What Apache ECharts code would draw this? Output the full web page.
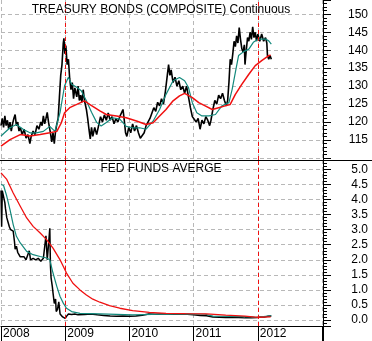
<!DOCTYPE html>
<html><head><meta charset="utf-8">
<script src="https://cdn.jsdelivr.net/npm/echarts@6/dist/echarts.min.js"></script>
<style>html,body{margin:0;padding:0;background:#fff}#c{width:372px;height:341px}</style>
</head><body><div id="c"></div>
<script>
const bondTitle = 'TREASURY BONDS (COMPOSITE) Continuous';
const fedTitle = 'FED FUNDS AVERGE';
const yearLabels = [2008, 2009, 2010, 2011, 2012];
const bondTickLabels = [115, 120, 125, 130, 135, 140, 145, 150];
const fedTickLabels = [0, 0.5, 1, 1.5, 2, 2.5, 3, 3.5, 4, 4.5, 5];
const markYears = [2009, 2012];

// [decimal year, price]
const bondPrice = [
[2008.00,119.0],[2008.02,121.0],[2008.04,118.5],[2008.06,121.7],[2008.08,119.0],[2008.10,120.5],[2008.12,118.0],[2008.14,120.0],[2008.16,117.5],[2008.18,119.5],
[2008.20,121.0],[2008.22,122.1],[2008.24,119.0],[2008.26,120.0],[2008.28,117.5],[2008.30,118.5],[2008.33,116.5],[2008.36,118.0],[2008.39,115.5],[2008.42,116.5],
[2008.45,114.0],[2008.47,116.0],[2008.50,117.5],[2008.53,116.5],[2008.56,119.0],[2008.59,118.0],[2008.62,120.0],[2008.64,119.0],[2008.66,121.7],[2008.68,119.5],
[2008.70,121.0],[2008.72,122.7],[2008.74,120.0],[2008.77,117.0],[2008.79,114.5],[2008.81,117.0],[2008.83,114.0],[2008.85,117.5],[2008.87,119.5],[2008.89,121.0],
[2008.91,127.0],[2008.93,133.0],[2008.95,136.0],[2008.97,142.0],[2008.98,143.3],[2008.995,139.0],[2009.01,141.3],[2009.03,136.0],[2009.05,137.5],[2009.07,132.0],
[2009.09,129.0],[2009.11,131.0],[2009.13,126.5],[2009.15,129.5],[2009.18,127.0],[2009.20,130.0],[2009.22,126.0],[2009.24,127.5],[2009.26,125.5],[2009.28,129.0],
[2009.30,126.0],[2009.33,123.5],[2009.35,121.0],[2009.37,118.0],[2009.39,115.3],[2009.41,118.5],[2009.43,116.0],[2009.46,118.5],[2009.49,116.5],[2009.52,119.0],
[2009.55,121.5],[2009.58,120.0],[2009.61,122.0],[2009.64,120.5],[2009.67,122.5],[2009.70,120.5],[2009.73,121.5],[2009.76,119.5],[2009.79,121.0],[2009.82,120.0],
[2009.85,121.5],[2009.88,122.0],[2009.90,123.5],[2009.92,120.5],[2009.94,117.0],[2009.96,116.0],[2009.99,118.5],[2010.02,117.0],[2010.05,119.5],[2010.08,117.5],
[2010.11,119.0],[2010.14,117.0],[2010.17,115.5],[2010.20,115.0],[2010.23,117.0],[2010.26,119.0],[2010.29,118.5],[2010.32,121.0],[2010.35,121.5],[2010.38,124.0],
[2010.41,123.0],[2010.44,125.5],[2010.47,124.5],[2010.50,126.5],[2010.53,125.0],[2010.56,128.5],[2010.59,133.0],[2010.61,136.0],[2010.63,133.0],[2010.65,134.5],
[2010.68,131.0],[2010.71,132.5],[2010.74,130.0],[2010.77,131.5],[2010.80,129.0],[2010.83,130.0],[2010.86,128.0],[2010.89,130.0],[2010.92,127.0],[2010.95,124.0],
[2010.98,121.5],[2011.01,122.0],[2011.04,120.0],[2011.07,121.0],[2011.10,118.0],[2011.13,120.5],[2011.16,119.5],[2011.19,121.5],[2011.22,120.5],[2011.25,119.0],
[2011.27,120.5],[2011.30,123.5],[2011.33,126.0],[2011.36,125.0],[2011.39,127.5],[2011.42,126.5],[2011.45,128.0],[2011.48,126.0],[2011.51,124.5],[2011.53,126.0],
[2011.55,131.0],[2011.57,137.5],[2011.59,136.0],[2011.61,139.0],[2011.63,142.5],[2011.65,141.0],[2011.67,144.0],[2011.69,142.0],[2011.71,146.3],[2011.73,143.0],
[2011.75,140.5],[2011.77,139.5],[2011.79,141.5],[2011.80,136.0],[2011.82,140.0],[2011.84,143.5],[2011.86,142.5],[2011.88,145.0],[2011.90,143.0],[2011.92,146.5],
[2011.94,143.5],[2011.96,145.0],[2011.98,142.5],[2012.00,144.5],[2012.03,142.5],[2012.06,144.5],[2012.09,142.5],[2012.12,143.5],[2012.14,142.0],[2012.15,138.5],
[2012.17,137.5],[2012.19,138.5],[2012.21,137.5]
];
const bondFastMA = [
[2008.00,116.1],[2008.14,118.4],[2008.24,119.3],[2008.35,117.9],[2008.45,117.0],[2008.55,117.0],[2008.66,117.4],[2008.76,118.8],[2008.84,117.4],[2008.92,122.7],
[2008.99,130.1],[2009.05,132.5],[2009.10,130.5],[2009.18,129.7],[2009.25,128.7],[2009.33,125.9],[2009.41,122.7],[2009.49,119.9],[2009.56,118.9],[2009.64,119.9],
[2009.74,121.2],[2009.85,120.8],[2009.95,118.8],[2010.05,118.4],[2010.16,118.4],[2010.26,118.0],[2010.37,120.3],[2010.47,123.5],[2010.57,127.7],[2010.68,131.5],
[2010.78,132.4],[2010.86,131.5],[2010.92,129.6],[2010.98,125.4],[2011.05,122.6],[2011.13,121.7],[2011.24,121.7],[2011.34,122.1],[2011.44,124.5],[2011.55,125.4],
[2011.60,129.1],[2011.65,133.8],[2011.70,138.5],[2011.78,139.6],[2011.86,140.3],[2011.93,142.2],[2012.01,143.1],[2012.12,143.1],[2012.17,142.6],[2012.21,141.7]
];
const bondSlowMA = [
[2008.00,113.3],[2008.14,115.1],[2008.30,116.5],[2008.45,116.1],[2008.61,116.5],[2008.76,117.0],[2008.87,117.4],[2008.94,119.8],[2008.99,122.6],[2009.07,124.0],
[2009.18,124.9],[2009.30,125.9],[2009.38,124.9],[2009.54,123.1],[2009.64,122.1],[2009.80,121.7],[2009.95,121.2],[2010.11,120.3],[2010.26,119.3],[2010.37,119.8],
[2010.47,121.7],[2010.57,123.5],[2010.68,125.9],[2010.78,127.3],[2010.86,128.0],[2010.98,126.8],[2011.08,125.4],[2011.18,124.5],[2011.29,123.5],[2011.39,124.0],
[2011.49,124.5],[2011.57,124.9],[2011.65,127.7],[2011.75,130.5],[2011.86,133.3],[2011.96,135.7],[2012.06,137.1],[2012.17,138.5],[2012.20,138.6]
];
const fedRate = [
[2008.00,4.3],[2008.01,3.1],[2008.02,4.3],[2008.05,4.3],[2008.06,3.9],[2008.07,3.7],[2008.09,3.4],[2008.11,3.25],[2008.13,3.1],[2008.15,3.0],
[2008.17,3.05],[2008.19,2.95],[2008.21,2.6],[2008.22,2.35],[2008.24,2.45],[2008.26,2.25],[2008.28,2.3],[2008.30,2.1],[2008.33,2.05],[2008.36,2.1],
[2008.39,2.0],[2008.42,2.05],[2008.44,2.3],[2008.46,2.0],[2008.50,2.05],[2008.54,2.0],[2008.58,2.05],[2008.62,1.95],[2008.66,2.05],[2008.68,2.0],
[2008.70,2.8],[2008.72,2.0],[2008.74,2.5],[2008.76,3.05],[2008.77,1.8],[2008.78,1.4],[2008.80,1.1],[2008.81,0.9],[2008.83,0.55],[2008.85,0.7],
[2008.86,0.28],[2008.88,0.35],[2008.90,0.6],[2008.92,0.2],[2008.94,0.15],[2008.96,0.1],[2008.98,0.12],[2009.00,0.05],[2009.02,0.12],[2009.05,0.2],
[2009.10,0.18],[2009.15,0.2],[2009.20,0.17],[2009.30,0.18],[2009.40,0.2],[2009.50,0.17],[2009.60,0.15],[2009.70,0.13],[2009.80,0.12],[2009.90,0.13],
[2010.00,0.12],[2010.10,0.13],[2010.20,0.16],[2010.30,0.2],[2010.40,0.19],[2010.50,0.2],[2010.60,0.2],[2010.70,0.19],[2010.80,0.19],[2010.90,0.19],
[2011.00,0.17],[2011.10,0.15],[2011.20,0.14],[2011.30,0.1],[2011.40,0.09],[2011.50,0.08],[2011.60,0.09],[2011.70,0.08],[2011.80,0.07],[2011.90,0.07],
[2012.00,0.08],[2012.05,0.1],[2012.10,0.1],[2012.15,0.12],[2012.21,0.13]
];
const fedFastMA = [
[2008.00,4.5],[2008.04,4.47],[2008.09,4.11],[2008.14,3.67],[2008.19,3.17],[2008.24,2.78],[2008.30,2.56],[2008.35,2.42],[2008.40,2.28],[2008.50,2.17],
[2008.61,2.11],[2008.71,2.06],[2008.76,2.0],[2008.81,1.56],[2008.87,1.11],[2008.92,0.78],[2008.97,0.56],[2009.02,0.39],[2009.10,0.28],[2009.23,0.22],
[2009.54,0.2],[2010.05,0.17],[2010.50,0.19],[2010.87,0.2],[2011.18,0.19],[2011.30,0.13],[2011.60,0.12],[2011.90,0.1],[2011.96,0.09],[2012.21,0.14]
];
const fedSlowMA = [
[2008.00,4.89],[2008.09,4.67],[2008.19,4.22],[2008.30,3.78],[2008.40,3.39],[2008.50,3.11],[2008.61,2.89],[2008.71,2.67],[2008.81,2.39],[2008.92,2.0],
[2009.02,1.56],[2009.12,1.22],[2009.23,1.0],[2009.33,0.83],[2009.43,0.69],[2009.54,0.59],[2009.69,0.48],[2009.85,0.39],[2010.05,0.31],[2010.31,0.25],
[2010.57,0.22],[2010.87,0.21],[2011.20,0.2],[2011.50,0.16],[2011.80,0.13],[2012.00,0.09],[2012.20,0.1]
];

const FONT = '"Liberation Sans", Arial, sans-serif';
const GRID_C = '#b8b8b8';
const BLACK = '#000000', TEAL = '#13897c', RED = '#f01010';

function near(v, list) { return list.some(t => Math.abs(v - t) < 1e-6); }

const xCommon = {
  type: 'value', min: 2008, max: 2013.015, interval: 1,
  splitLine: { show: true, lineStyle: { color: GRID_C, type: [4, 3], width: 1 } }
};
function yCommon(gi, lo, hi, step, labels, digits) {
  return {
    type: 'value', gridIndex: gi, position: 'right', min: lo, max: hi,
    minInterval: step, maxInterval: step,
    axisLine: { show: true, onZero: false, lineStyle: { color: BLACK, width: 1 } },
    axisTick: { show: true, inside: false, length: 8, lineStyle: { color: BLACK } },
    minorTick: { show: true, splitNumber: 5, length: 4, lineStyle: { color: BLACK } },
    splitLine: { show: true, showMinLine: false, showMaxLine: false, lineStyle: { color: GRID_C, type: [4, 3], width: 1 } },
    axisLabel: {
      show: true, align: 'right', margin: 45, fontSize: 12, color: BLACK, fontFamily: FONT,
      formatter: v => near(v, labels) ? v.toFixed(digits) : ''
    }
  };
}
const markLine = {
  silent: true, symbol: ['none', 'none'], animation: false,
  label: { show: false },
  lineStyle: { color: RED, type: [4, 3], width: 1 },
  data: markYears.map(y => ({ xAxis: y }))
};
function line(data, color, width, xi, extra) {
  return Object.assign({
    type: 'line', data: data, xAxisIndex: xi, yAxisIndex: xi, showSymbol: false, symbol: 'none',
    lineStyle: { color: color, width: width }, itemStyle: { color: color }, silent: true, animation: false
  }, extra || {});
}

const chart = echarts.init(document.getElementById('c'));
chart.setOption({
  animation: false,
  backgroundColor: '#ffffff',
  title: [
    { text: bondTitle, left: 161, top: 4, textAlign: 'center', padding: 0,
      textStyle: { fontSize: 12, fontWeight: 'normal', color: BLACK, fontFamily: FONT } },
    { text: fedTitle, left: 161, top: 163, textAlign: 'center', padding: 0,
      textStyle: { fontSize: 12, fontWeight: 'normal', color: BLACK, fontFamily: FONT } }
  ],
  grid: [
    { left: 1, right: 49, top: 0, height: 160 },
    { left: 1, right: 49, top: 160, height: 166 }
  ],
  xAxis: [
    Object.assign({}, xCommon, { gridIndex: 0, axisLine: { show: false, onZero: false }, axisTick: { show: false }, axisLabel: { show: false } }),
    Object.assign({}, xCommon, {
      gridIndex: 1,
      axisLine: { show: true, onZero: false, lineStyle: { color: BLACK, width: 1 } },
      axisTick: { show: true, inside: false, length: 15, lineStyle: { color: BLACK } },
      axisLabel: { show: true, align: 'left', margin: 2, padding: [0, 0, 0, 2], fontSize: 12, color: BLACK, fontFamily: FONT,
        formatter: v => near(v, yearLabels) ? String(Math.round(v)) : '' }
    })
  ],
  yAxis: [
    yCommon(0, 109.43, 153.98, 5, bondTickLabels, 0),
    yCommon(1, -0.2, 5.316, 0.5, fedTickLabels, 1)
  ],
  graphic: [
    { type: 'line', z: 100, silent: true, shape: { x1: 0, y1: 160.5, x2: 372, y2: 160.5 }, style: { stroke: BLACK, lineWidth: 1 } }
  ],
  series: [
    line(bondPrice, BLACK, 1.6, 0, { markLine: markLine }),
    line(bondFastMA, TEAL, 1.2, 0),
    line(bondSlowMA, RED, 1.5, 0),
    line(fedRate, BLACK, 1.5, 1, { markLine: markLine }),
    line(fedFastMA, TEAL, 1.2, 1),
    line(fedSlowMA, RED, 1.3, 1)
  ]
});
</script></body></html>
